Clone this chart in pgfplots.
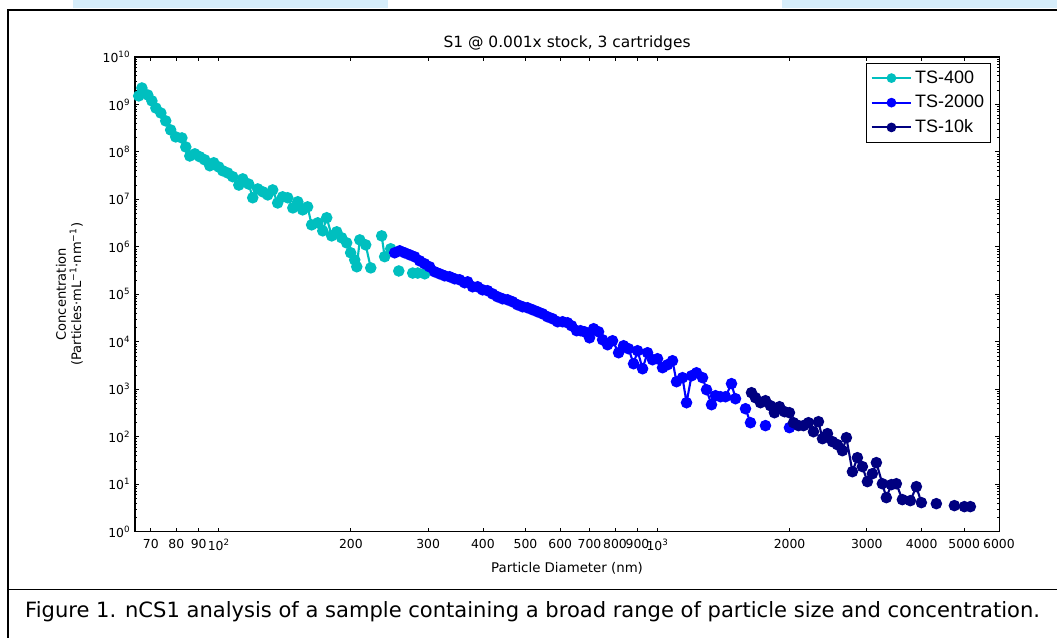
\documentclass[border=0pt]{standalone}
\usepackage{fontspec}
\setmainfont{DejaVu Sans}
\newfontfamily\legfont{Liberation Sans}
\usepackage{pgfplots}
\pgfplotsset{compat=1.18}
\definecolor{tscyan}{RGB}{0,191,191}
\definecolor{tsblue}{RGB}{0,0,255}
\definecolor{tsnavy}{RGB}{0,0,128}
\definecolor{pageblue}{RGB}{214,237,250}

\begin{document}
\begin{tikzpicture}
% page furniture, in pixels of the reference (origin top left)
\begin{scope}[x=0.75pt,y=-0.75pt]
\path (0,0) rectangle (1058,638);
\fill[pageblue] (73,0) rectangle (388,8);
\fill[pageblue] (783,0) rectangle (1058,8);
\draw[line width=1.2pt] (8,638) -- (8,10) -- (1058,10);
\draw[line width=1.2pt] (8,590) -- (1058,590);
\node[font=\fontsize{15.8}{18}\selectfont] at (533,612)
  {Figure 1. nCS1 analysis of a sample containing a broad range of particle size and concentration.};
\end{scope}

\begin{axis}[
  at={(101.25pt,-399pt)}, anchor=south west,
  scale only axis, width=648.75pt, height=356.25pt,
  xmode=log, ymode=log,
  xmin=64.4, xmax=6010, ymin=1, ymax=1e10,
  unbounded coords=jump,
  axis line style={line width=0.9pt},
  tick style={black, line width=0.6pt},
  major tick length=3pt, minor tick length=1.6pt,
  tick label style={font=\fontsize{9.3}{10}\selectfont},
  xtick={70,80,90,100,200,300,400,500,600,700,800,900,1000,2000,3000,4000,5000,6000},
  xticklabels={70,80,90,10\textsuperscript{2},200,300,400,500,600,700,800,900,10\textsuperscript{3},2000,3000,4000,5000,6000},
  minor xtick={},
  ytick={1,1e1,1e2,1e3,1e4,1e5,1e6,1e7,1e8,1e9,1e10},
  yticklabels={10\textsuperscript{0},10\textsuperscript{1},10\textsuperscript{2},10\textsuperscript{3},10\textsuperscript{4},10\textsuperscript{5},10\textsuperscript{6},10\textsuperscript{7},10\textsuperscript{8},10\textsuperscript{9},10\textsuperscript{10}},
  minor ytick={2e0,3e0,4e0,5e0,6e0,7e0,8e0,9e0,
    2e1,3e1,4e1,5e1,6e1,7e1,8e1,9e1,
    2e2,3e2,4e2,5e2,6e2,7e2,8e2,9e2,
    2e3,3e3,4e3,5e3,6e3,7e3,8e3,9e3,
    2e4,3e4,4e4,5e4,6e4,7e4,8e4,9e4,
    2e5,3e5,4e5,5e5,6e5,7e5,8e5,9e5,
    2e6,3e6,4e6,5e6,6e6,7e6,8e6,9e6,
    2e7,3e7,4e7,5e7,6e7,7e7,8e7,9e7,
    2e8,3e8,4e8,5e8,6e8,7e8,8e8,9e8,
    2e9,3e9,4e9,5e9,6e9,7e9,8e9,9e9},
  xticklabel style={yshift=-2pt},
  title={S1 @ 0.001x stock, 3 cartridges},
  title style={font=\fontsize{11.6}{13}\selectfont, yshift=-5pt},
  xlabel={Particle Diameter (nm)},
  xlabel style={font=\fontsize{10}{12}\selectfont, yshift=-2pt},
  ylabel={Concentration\\(Particles·mL\textsuperscript{−1}·nm\textsuperscript{−1})},
  ylabel style={align=center, font=\fontsize{9.8}{11.5}\selectfont, yshift=8pt},
  legend style={at={(1,1)}, anchor=north east, xshift=-6pt, yshift=-4.5pt,
    font=\legfont\fontsize{13.5}{15.5}\selectfont, draw=black, line width=0.8pt,
    inner xsep=3pt, inner ysep=3.5pt, row sep=3.5pt},
  legend cell align=left,
  legend image code/.code={
    \draw[#1] (0cm,0cm) -- (1.05cm,0cm);
    \draw[#1, mark size=2.8pt] plot coordinates {(0.525cm,0cm)};},
  every axis plot/.append style={line width=1.6pt, mark=*, mark size=3.5pt},
]
\addplot[tscyan, mark options={fill=tscyan, draw=tscyan}] coordinates {
(65.7,1.51e9) (66.8,2.22e9) (68.9,1.58e9) (70.4,1.19e9) (71.9,8.4e8) (73.8,6.6e8)
(75.7,4.5e8) (77.7,2.9e8) (79.8,2.07e8) (82.4,1.97e8) (84.1,1.27e8) (85.9,8.2e7)
(88.2,9.1e7) (90.5,7.9e7) (92.9,6.8e7) (95.4,5.1e7) (97.4,5.9e7) (100,4.8e7)
(102.1,4.0e7) (104.8,3.6e7) (107.6,3.0e7) (111.1,2.0e7) (113.4,2.7e7) (117.0,2.1e7)
(119.5,1.08e7) (122.7,1.66e7) (126.0,1.44e7) (129.3,1.24e7) (132.7,1.58e7) (136.2,8.4e6)
(139.8,1.13e7) (143.6,1.08e7) (147.5,6.6e6) (151.4,8.9e6) (155.3,6.0e6) (159.4,6.95e6)
(162.8,2.9e6) (168.1,3.2e6) (172.6,2.17e6) (176.2,4.1e6) (180.9,1.7e6) (185.7,2.07e6)
(190.6,1.55e6) (195.7,1.21e6) (199.8,7.5e5) (204.1,5.3e5) (206.3,3.8e5) (209.6,1.4e6)
(216.2,1.1e6) (222.0,3.6e5) (228,nan) (235.1,1.7e6) (238.8,6.2e5) (246.5,9.1e5)
(252,nan) (257.2,3.1e5) (265,nan) (276.7,2.8e5) (284.1,2.8e5) (294.7,2.7e5)
};
\addlegendentry{TS-400}
\addplot[tsblue, mark options={fill=tsblue, draw=tsblue}] coordinates {
(251.7,7.48e5) (258.4,8.24e5) (265.3,7.48e5) (272.3,6.79e5) (279.6,6.15e5) (287.0,5.07e5)
(294.6,4.39e5) (302.4,3.79e5) (310.5,2.98e5) (318.7,2.70e5) (327.2,2.45e5) (335.9,2.34e5)
(344.8,2.12e5) (354.0,2.02e5) (363.4,1.75e5) (369.2,1.83e5) (378.9,1.44e5) (389.0,1.44e5)
(399.3,1.24e5) (409.9,1.19e5) (420.8,1.02e5) (431.9,8.86e4) (443.4,8.04e4) (455.2,7.66e4)
(467.3,6.95e4) (479.7,6.01e4) (492.5,5.46e4) (505.5,5.20e4) (519.0,4.72e4) (532.8,4.28e4)
(547.0,3.88e4) (561.5,3.36e4) (576.5,3.05e4) (591.7,2.64e4) (607.5,2.64e4) (623.7,2.51e4)
(637.0,2.17e4) (654.0,1.71e4) (667.8,1.71e4) (682.0,1.62e4) (699.9,1.21e4) (715.0,1.88e4)
(733.9,1.62e4) (749.5,1.10e4) (769.4,8.65e3) (789.9,1.05e4) (815.1,5.87e3) (836.8,8.24e3)
(859.0,7.12e3) (881.8,3.44e3) (900.5,6.47e3) (924.5,2.70e3) (948.9,5.87e3) (974.1,4.18e3)
(1000,4.39e3) (1026.6,2.84e3) (1053.9,3.28e3) (1081.8,3.98e3) (1104.7,1.44e3) (1140.0,1.75e3)
(1164.4,5.20e2) (1195.3,1.92e3) (1227.0,2.22e3) (1266.3,1.75e3) (1293.2,9.76e2) (1327.5,4.72e2)
(1355.6,7.30e2) (1391.6,6.95e2) (1428.6,6.95e2) (1474.3,1.31e3) (1505.6,6.31e2) (1550,nan)
(1586.6,3.88e2) (1628.8,1.97e2) (1700,nan) (1762.1,1.71e2) (1900,nan) (1998.4,1.55e2)
};
\addlegendentry{TS-2000}
\addplot[tsnavy, mark options={fill=tsnavy, draw=tsnavy}] coordinates {
(1637.4,8.44e2) (1672.0,6.62e2) (1716.5,5.20e2) (1762.1,5.73e2) (1808.9,4.49e2) (1847.2,3.20e2)
(1896.4,4.28e2) (1947.3,3.36e2) (1998.4,3.20e2) (2041.3,1.97e2) (2095.5,1.71e2) (2151.3,1.71e2)
(2208.1,1.97e2) (2266.9,1.27e2) (2326.9,2.07e2) (2376.5,90.8) (2439.6,116) (2504.3,78.5)
(2570.4,67.9) (2638.8,50.7) (2694.5,95.3) (2780.8,18.3) (2854.6,36.1) (2930.6,23.4)
(3008.4,11.3) (3087.8,16.6) (3153.5,28.4) (3254.0,10.2) (3322.8,5.20) (3411.5,9.76)
(3502.1,10.2) (3614.3,4.72) (3769.4,4.49) (3890.5,8.86) (3993.5,4.08) (4150,nan)
(4319.6,3.88) (4500,nan) (4748.8,3.53) (4900,nan) (5004.9,3.36) (5164.4,3.36)
};
\addlegendentry{TS-10k}
\end{axis}
\end{tikzpicture}
\end{document}
